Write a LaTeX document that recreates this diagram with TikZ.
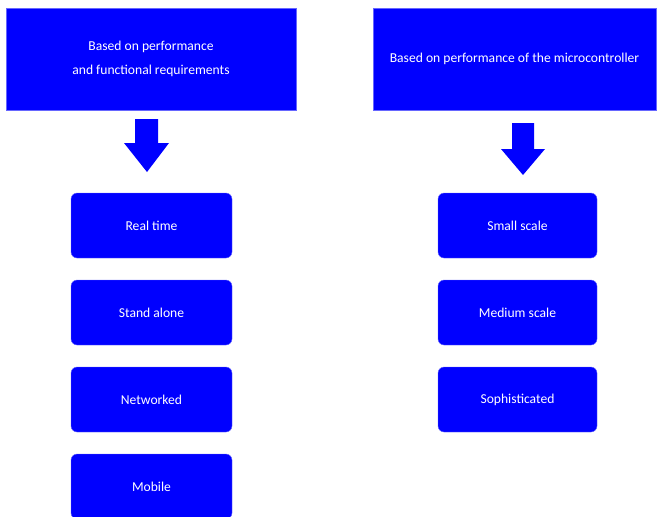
\documentclass[tikz,border=0pt]{standalone}
\usepackage{fontspec}
\setmainfont{Carlito}
\usetikzlibrary{positioning}
\definecolor{boxblue}{RGB}{0,0,255}
\begin{document}
\begin{tikzpicture}[x=1pt,y=-1pt,
  header/.style={fill=boxblue, draw=boxblue!60!white, line width=0.4pt, text=white, align=center, inner sep=0pt, font=\fontsize{13.6}{24}\selectfont},
  item/.style={fill=boxblue, draw=boxblue!60!white, line width=0.4pt, rounded corners=6pt, text=white, inner sep=0pt, minimum width=161pt, minimum height=65pt, font=\fontsize{13.6}{16}\selectfont},
  blockarrow/.style={fill=boxblue, draw=none}]
\useasboundingbox (0,0) rectangle (657,517);
\node[header, minimum width=290pt, minimum height=102pt] (h1) at (151,59) {Based on performance\\and functional requirements};
\node[header, minimum width=283pt, minimum height=102pt] (h2) at (514.5,59) {Based on performance of the microcontroller};
% left items
\node[item] (rt) at (151.5,225.5) {Real time};
\node[item] (sa) at (151.5,312.5) {Stand alone};
\node[item] (nw) at (151.5,399.5) {Networked};
\node[item] (mb) at (151.5,486.5) {Mobile};
% right items
\node[item, minimum width=159pt] (ss) at (517.5,225.5) {Small scale};
\node[item, minimum width=159pt] (ms) at (517.5,312.5) {Medium scale};
\node[item, minimum width=159pt] (so) at (517.5,399.5) {Sophisticated};
% block arrows
\fill[blockarrow] (135,119) -- (158,119) -- (158,143) -- (169,143) -- (147,172) -- (124,143) -- (135,143) -- cycle;
\fill[blockarrow] (512,123) -- (534,123) -- (534,149) -- (545,149) -- (523,175) -- (501,149) -- (512,149) -- cycle;
\end{tikzpicture}
\end{document}
